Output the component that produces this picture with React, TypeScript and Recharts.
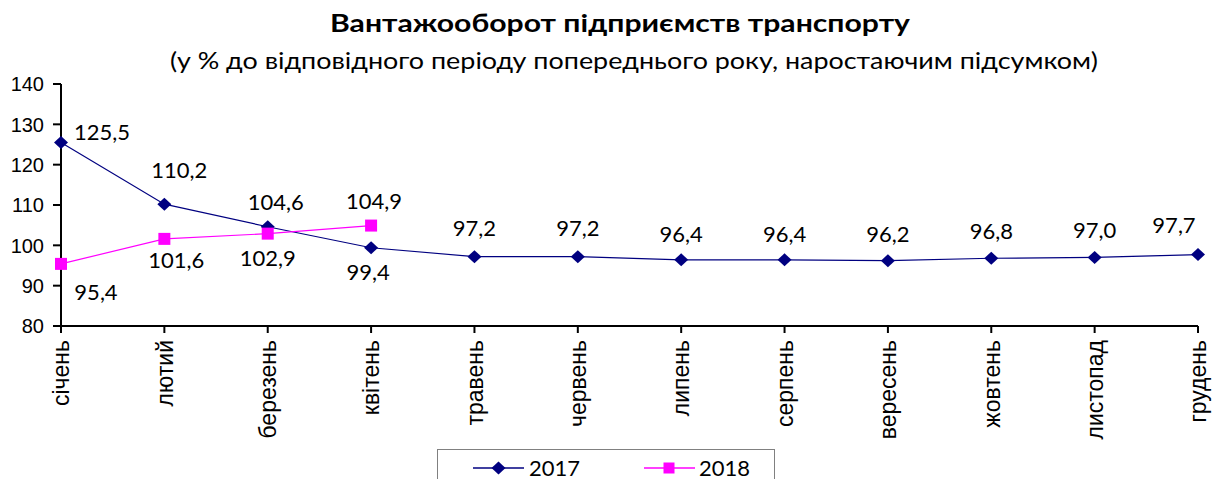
import React from 'react';
import { LineChart, Line, XAxis, YAxis, Legend } from 'recharts';

const months = ['січень', 'лютий', 'березень', 'квітень', 'травень', 'червень', 'липень', 'серпень', 'вересень', 'жовтень', 'листопад', 'грудень'];
const values2017 = [125.5, 110.2, 104.6, 99.4, 97.2, 97.2, 96.4, 96.4, 96.2, 96.8, 97.0, 97.7];
const values2018 = [95.4, 101.6, 102.9, 104.9];
const yTicks = [80, 90, 100, 110, 120, 130, 140];

// label offsets (dx, dy) relative to each point
const offsets2017 = [[41, -11], [15, -35], [8, -25], [-3, 24], [0, -29], [0, -29], [0, -26], [0, -26], [0, -27], [0, -28], [0, -28], [-24, -30]];
const offsets2018 = [[35, 28], [12, 21], [0, 24], [3, -25]];

const data = months.map((m, i) => ({
  month: m,
  y2017: values2017[i],
  y2018: i < values2018.length ? values2018[i] : null,
}));

const LABEL_FONT = 'Lato, "Open Sans", sans-serif';
const AXIS_FONT = '"Liberation Sans", Arial, sans-serif';

const fmt = (v: number) => v.toFixed(1).replace('.', ',');

const makeLabel = (offsets: number[][]) => (props: any) => {
  const { x, y, value, index } = props;
  if (value == null) return null;
  const [dx, dy] = offsets[index] || [0, -28];
  return (
    <text x={x + dx} y={y + dy} textAnchor="middle" dominantBaseline="central" fontFamily={LABEL_FONT} fontSize={22} fill="#000">
      {fmt(value)}
    </text>
  );
};

const XTick = (props: any) => {
  const { x, y, payload } = props;
  return (
    <g transform={`translate(${x},${y + 5}) rotate(-90)`}>
      <text x={0} y={0} dy="0.36em" textAnchor="end" fontFamily={AXIS_FONT} fontSize={23} fill="#000">
        {payload.value}
      </text>
    </g>
  );
};

const YTick = (props: any) => {
  const { y, payload } = props;
  return (
    <text x={44} y={y} dy="0.36em" textAnchor="end" fontFamily={AXIS_FONT} fontSize={20} fill="#000">
      {payload.value}
    </text>
  );
};

const Diamond = (props: any) => {
  const { cx, cy } = props;
  if (cx == null || cy == null) return null;
  const rx = 7;
  const ry = 6.5;
  return <path d={`M${cx},${cy - ry}L${cx + rx},${cy}L${cx},${cy + ry}L${cx - rx},${cy}Z`} fill="#000080" stroke="none" />;
};

const Square = (props: any) => {
  const { cx, cy } = props;
  if (cx == null || cy == null) return null;
  const s = 6;
  return <rect x={cx - s} y={cy - s} width={2 * s} height={2 * s} fill="#FF00FF" stroke="none" />;
};

const LegendBox = () => (
  <div style={{ width: 338, height: 40, border: '1px solid #808080', boxSizing: 'border-box', position: 'relative', background: '#fff' }}>
    <svg width={338} height={40} style={{ position: 'absolute', left: 0, top: 0 }}>
      <line x1={35} x2={86} y1={18} y2={18} stroke="#000080" strokeWidth={1.3} />
      <path d="M60.5,11.5L67.5,18L60.5,24.5L53.5,18Z" fill="#000080" />
      <text x={91} y={25.5} fontFamily={LABEL_FONT} fontSize={22}>2017</text>
      <line x1={206} x2={257} y1={18} y2={18} stroke="#FF00FF" strokeWidth={1.3} />
      <rect x={225.5} y={12.5} width={11} height={11} fill="#FF00FF" />
      <text x={261} y={25.5} fontFamily={LABEL_FONT} fontSize={22}>2018</text>
    </svg>
  </div>
);

export default function App() {
  return (
    <div style={{ position: 'fixed', left: 0, top: 0, width: 1214, height: 479, background: '#fff', overflow: 'hidden' }}>
      <svg width={1214} height={80} style={{ position: 'absolute', left: 0, top: 0 }}>
        <text x={620} y={32} textAnchor="middle" fontFamily={LABEL_FONT} fontWeight="bold" fontSize={25} fill="#000" textLength={580} lengthAdjust="spacingAndGlyphs">
          Вантажооборот підприємств транспорту
        </text>
        <text x={634} y={69} textAnchor="middle" fontFamily={LABEL_FONT} fontSize={22.5} fill="#000" textLength={928} lengthAdjust="spacingAndGlyphs">
          (у % до відповідного періоду попереднього року, наростаючим підсумком)
        </text>
      </svg>
      <div style={{ position: 'absolute', left: 0, top: 0 }}>
        <LineChart width={1214} height={479} data={data} margin={{ top: 84, right: 16, left: 0, bottom: 0 }}>
          <YAxis
            domain={[80, 140]}
            ticks={yTicks}
            interval={0}
            width={61}
            axisLine={{ stroke: '#000', strokeWidth: 2 }}
            tickLine={{ stroke: '#000', strokeWidth: 2 }}
            tickSize={8}
            tick={<YTick />}
          />
          <XAxis
            dataKey="month"
            interval={0}
            height={113}
            axisLine={{ stroke: '#000', strokeWidth: 2 }}
            tickLine={{ stroke: '#000', strokeWidth: 2 }}
            tickSize={7}
            tick={<XTick />}
          />
          <Legend
            verticalAlign="bottom"
            content={<LegendBox />}
            wrapperStyle={{ position: 'absolute', left: 437, top: 449, width: 338, height: 40 }}
          />
          <Line
            type="linear"
            dataKey="y2017"
            name="2017"
            stroke="#000080"
            strokeWidth={1.2}
            dot={<Diamond />}
            activeDot={false}
            isAnimationActive={false}
            label={makeLabel(offsets2017)}
          />
          <Line
            type="linear"
            dataKey="y2018"
            name="2018"
            stroke="#FF00FF"
            strokeWidth={1.2}
            dot={<Square />}
            activeDot={false}
            isAnimationActive={false}
            connectNulls={false}
            label={makeLabel(offsets2018)}
          />
        </LineChart>
      </div>
    </div>
  );
}
